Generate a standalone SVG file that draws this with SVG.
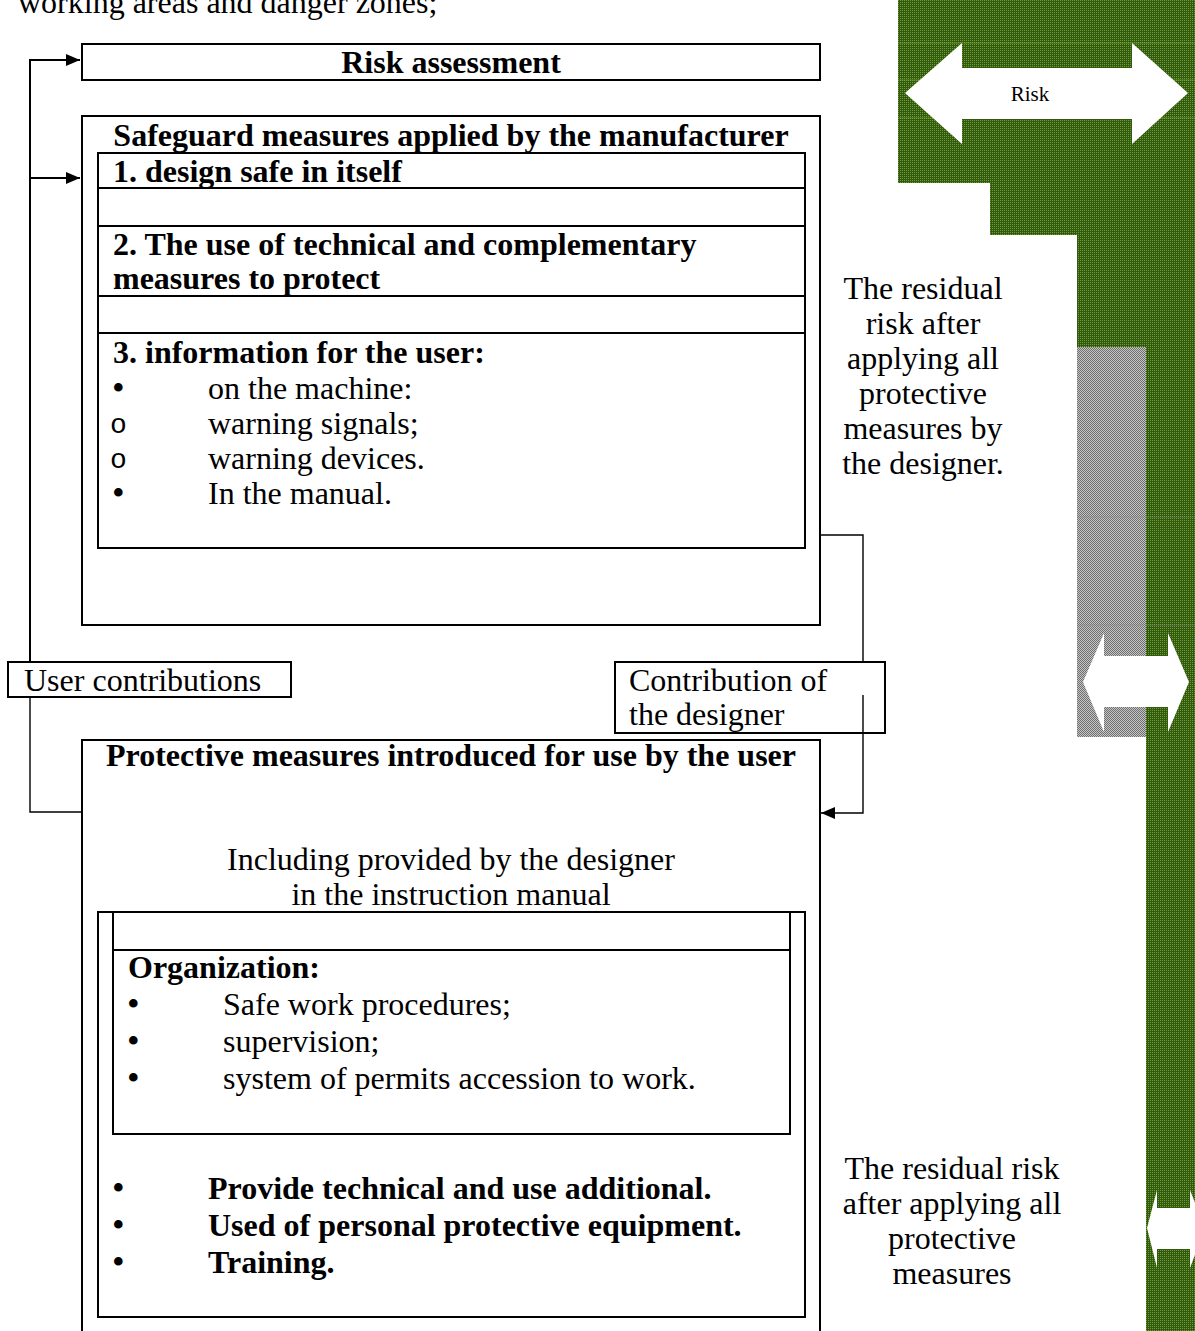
<svg xmlns="http://www.w3.org/2000/svg" width="1195" height="1331" viewBox="0 0 1195 1331">
<style>
text{font-family:"Liberation Serif","Times New Roman",serif;font-size:32px;fill:#000}
.b{font-weight:bold}
.m{text-anchor:middle}
.bu{font-size:36px}
.bx{fill:none;stroke:#000;stroke-width:2}
.cn{fill:none;stroke:#000;stroke-width:2}
.cn2{fill:none;stroke:#000;stroke-width:1.4}
.o{font-family:"Liberation Mono","Courier New",monospace;font-size:28px}
.wa{fill:#fff}
.fl{stroke:#86b840;stroke-width:1;opacity:0.5}
</style>
<defs>
<pattern id="gp" width="2" height="2" patternUnits="userSpaceOnUse"><rect width="2" height="2" fill="#32590f"/><rect width="1" height="1" fill="#6e9f34"/></pattern>
<pattern id="gy" width="2" height="2" patternUnits="userSpaceOnUse"><rect width="2" height="2" fill="#c4c4c4"/><rect width="1" height="1" fill="#707070"/><rect x="1" y="1" width="1" height="1" fill="#707070"/></pattern>
<marker id="ah" viewBox="0 0 14 12" refX="14" refY="6" markerWidth="14" markerHeight="12" markerUnits="userSpaceOnUse" orient="auto"><path d="M0,0 L14,6 L0,12 z" fill="#000"/></marker>
</defs>

<text x="18" y="13">working areas and danger zones;</text>

<g id="risk-scale">
<path d="M898,0 H1195 V1331 H1146 V737 H1077 V235 H990 V183 H898 Z" fill="url(#gp)"/>
<rect x="1077" y="347" width="69" height="390" fill="url(#gy)"/>
<line class="fl" x1="898" y1="43" x2="1195" y2="43"/>
<line class="fl" x1="898" y1="80" x2="1195" y2="80"/>
<line class="fl" x1="898" y1="118" x2="1195" y2="118"/>
<line x1="1077" y1="517" x2="1195" y2="517" stroke="#888" stroke-width="1" opacity="0.5"/>
<line x1="1077" y1="625" x2="1195" y2="625" stroke="#888" stroke-width="1" opacity="0.5"/>
<polygon class="wa" points="905,93 962,43 962,68 1132,68 1132,43 1188,93 1132,144 1132,119 962,119 962,144"/>
<text x="1030" y="101" class="m" style="font-size:21px">Risk</text>
<polygon class="wa" points="1083,682 1104,633 1104,656 1168,656 1168,633 1189,682 1168,732 1168,707 1104,707 1104,732"/>
<polygon class="wa" points="1147,1228 1157,1190 1157,1208 1190,1208 1190,1190 1205,1228 1190,1268 1190,1249 1157,1249 1157,1268"/>
</g>

<g id="risk-assessment">
<rect class="bx" x="82" y="44" width="738" height="36"/>
<text x="451" y="73" class="b m">Risk assessment</text>
</g>

<g id="safeguard-measures">
<rect class="bx" x="82" y="116" width="738" height="509"/>
<text x="451" y="146" class="b m">Safeguard measures applied by the manufacturer</text>
<rect class="bx" x="98" y="153" width="707" height="395"/>
<line class="bx" x1="98" y1="188" x2="805" y2="188"/>
<line class="bx" x1="98" y1="226" x2="805" y2="226"/>
<line class="bx" x1="98" y1="296" x2="805" y2="296"/>
<line class="bx" x1="98" y1="333" x2="805" y2="333"/>
<text x="113" y="182" class="b">1. design safe in itself</text>
<text x="113" y="255" class="b">2. The use of technical and complementary</text>
<text x="113" y="289" class="b">measures to protect</text>
<text x="113" y="363" class="b">3. information for the user:</text>
<text x="112" y="400" class="bu">•</text><text x="208" y="399">on the machine:</text>
<text x="110" y="433" class="o">o</text><text x="208" y="434">warning signals;</text>
<text x="110" y="468" class="o">o</text><text x="208" y="469">warning devices.</text>
<text x="112" y="505" class="bu">•</text><text x="208" y="504">In the manual.</text>
</g>

<g id="residual-designer">
<text class="m" x="923" y="299">The residual</text>
<text class="m" x="923" y="334">risk after</text>
<text class="m" x="923" y="369">applying all</text>
<text class="m" x="923" y="404">protective</text>
<text class="m" x="923" y="439">measures by</text>
<text class="m" x="923" y="474">the designer.</text>
</g>

<g id="user-contributions">
<rect class="bx" x="8" y="662" width="283" height="35"/>
<text x="24" y="691">User contributions</text>
</g>

<g id="designer-contribution">
<rect class="bx" x="615" y="662" width="270" height="71"/>
<text x="629" y="691">Contribution of</text>
<text x="629" y="725">the designer</text>
</g>

<g id="protective-measures">
<path class="bx" d="M82,1335 V740 H820 V1335"/>
<text x="451" y="766" class="b m">Protective measures introduced for use by the user</text>
<text x="451" y="870" class="m">Including provided by the designer</text>
<text x="451" y="905" class="m">in the instruction manual</text>
<rect class="bx" x="98" y="912" width="707" height="405"/>
<rect class="bx" x="113" y="912" width="677" height="222"/>
<line class="bx" x1="113" y1="950" x2="790" y2="950"/>
<text x="128" y="978" class="b">Organization:</text>
<text x="127" y="1016" class="bu">•</text><text x="223" y="1015">Safe work procedures;</text>
<text x="127" y="1053" class="bu">•</text><text x="223" y="1052">supervision;</text>
<text x="127" y="1090" class="bu">•</text><text x="223" y="1089">system of permits accession to work.</text>
<text x="112" y="1200" class="bu">•</text><text x="208" y="1199" class="b">Provide technical and use additional.</text>
<text x="112" y="1237" class="bu">•</text><text x="208" y="1236" class="b">Used of personal protective equipment.</text>
<text x="112" y="1274" class="bu">•</text><text x="208" y="1273" class="b">Training.</text>
</g>

<g id="residual-final">
<text class="m" x="952" y="1179">The residual risk</text>
<text class="m" x="952" y="1214">after applying all</text>
<text class="m" x="952" y="1249">protective</text>
<text class="m" x="952" y="1284">measures</text>
</g>

<g id="connectors">
<path class="cn" d="M30,662 V60 H80" marker-end="url(#ah)"/>
<path class="cn" d="M30,178 H80" marker-end="url(#ah)"/>
<path class="cn2" d="M820,535 H863 V662"/>
<path class="cn2" d="M863,695 V813 H821" marker-end="url(#ah)"/>
<path class="cn2" d="M30,697 V812 H82"/>
</g>
</svg>
